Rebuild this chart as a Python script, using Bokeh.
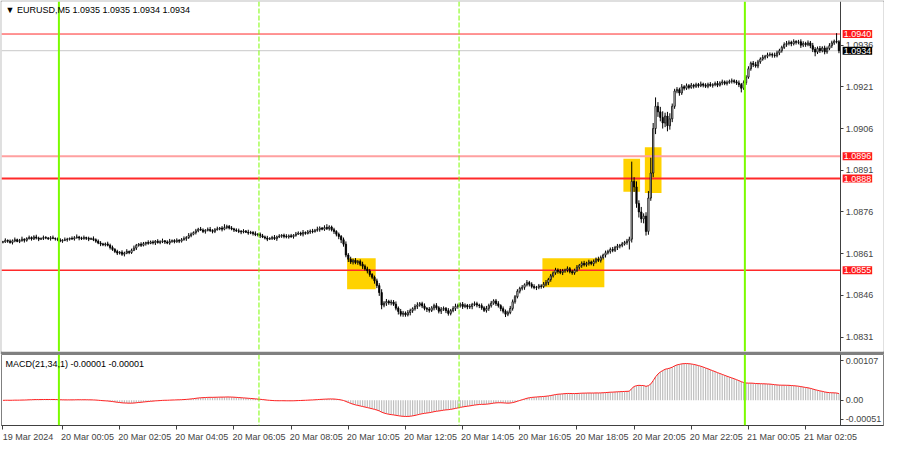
import numpy as np
import pandas as pd
from bokeh.plotting import figure
from bokeh.models import Range1d, FixedTicker, Span, Label, PrintfTickFormatter
from bokeh.layouts import column
from bokeh.embed import file_html
from bokeh.resources import INLINE

# ---------------- data (EURUSD M5) ----------------
title_text = "\u25bc EURUSD,M5 1.0935 1.0935 1.0934 1.0934"
macd_text = "MACD(21,34,1) -0.00001 -0.00001"
first_bar = "2024-03-19 22:00"

close = [
    1.08652, 1.08658, 1.08655, 1.08650, 1.08656, 1.08660, 1.08654, 1.08657, 1.08662, 1.08658, 1.08664, 1.08668,
    1.08663, 1.08670, 1.08666, 1.08662, 1.08665, 1.08668, 1.08666, 1.08664, 1.08667, 1.08665, 1.08663, 1.08660,
    1.08655, 1.08658, 1.08660, 1.08662, 1.08665, 1.08663, 1.08667, 1.08670, 1.08666, 1.08664, 1.08668, 1.08665,
    1.08662, 1.08664, 1.08660, 1.08655, 1.08648, 1.08645, 1.08642, 1.08645, 1.08640, 1.08632, 1.08625, 1.08618,
    1.08612, 1.08615, 1.08608, 1.08612, 1.08618, 1.08614, 1.08622, 1.08630, 1.08640, 1.08644, 1.08640, 1.08646,
    1.08650, 1.08647, 1.08652, 1.08649, 1.08655, 1.08650, 1.08653, 1.08656, 1.08652, 1.08648, 1.08654, 1.08657,
    1.08653, 1.08658, 1.08655, 1.08660, 1.08664, 1.08668, 1.08675, 1.08680, 1.08686, 1.08692, 1.08698, 1.08695,
    1.08690, 1.08694, 1.08697, 1.08693, 1.08690, 1.08696, 1.08699, 1.08702, 1.08698, 1.08704, 1.08708, 1.08702,
    1.08699, 1.08695, 1.08692, 1.08690, 1.08688, 1.08691, 1.08687, 1.08684, 1.08686, 1.08682, 1.08678, 1.08680,
    1.08674, 1.08670, 1.08666, 1.08662, 1.08665, 1.08668, 1.08664, 1.08670, 1.08673, 1.08676, 1.08672, 1.08670,
    1.08674, 1.08671, 1.08676, 1.08680, 1.08684, 1.08680, 1.08686, 1.08683, 1.08688, 1.08691, 1.08689, 1.08694,
    1.08697, 1.08702, 1.08698, 1.08704, 1.08700, 1.08706, 1.08696, 1.08690, 1.08680, 1.08672, 1.08660, 1.08644,
    1.08605, 1.08590, 1.08580, 1.08586, 1.08578, 1.08582, 1.08572, 1.08565, 1.08555, 1.08548, 1.08535, 1.08525,
    1.08512, 1.08495, 1.08470, 1.08425, 1.08432, 1.08438, 1.08433, 1.08436, 1.08428, 1.08414, 1.08402, 1.08392,
    1.08396, 1.08390, 1.08398, 1.08405, 1.08412, 1.08420, 1.08425, 1.08430, 1.08422, 1.08413, 1.08410, 1.08406,
    1.08415, 1.08423, 1.08415, 1.08403, 1.08410, 1.08413, 1.08405, 1.08395, 1.08405, 1.08413, 1.08420, 1.08423,
    1.08428, 1.08420, 1.08424, 1.08418, 1.08420, 1.08427, 1.08430, 1.08425, 1.08423, 1.08415, 1.08406, 1.08413,
    1.08423, 1.08432, 1.08440, 1.08430, 1.08423, 1.08412, 1.08403, 1.08392, 1.08398, 1.08413, 1.08437, 1.08455,
    1.08475, 1.08485, 1.08489, 1.08498, 1.08506, 1.08500, 1.08492, 1.08488, 1.08489, 1.08494, 1.08492, 1.08500,
    1.08506, 1.08517, 1.08530, 1.08541, 1.08551, 1.08546, 1.08542, 1.08548, 1.08551, 1.08556, 1.08545, 1.08541,
    1.08550, 1.08561, 1.08568, 1.08575, 1.08570, 1.08575, 1.08580, 1.08574, 1.08582, 1.08590, 1.08586, 1.08596,
    1.08605, 1.08613, 1.08618, 1.08625, 1.08622, 1.08632, 1.08637, 1.08640, 1.08645, 1.08650, 1.08655, 1.08662,
    1.08870, 1.08850, 1.08790, 1.08760, 1.08735, 1.08745, 1.08690, 1.08810, 1.08900, 1.09060, 1.09140, 1.09120,
    1.09100, 1.09080, 1.09105, 1.09070, 1.09095, 1.09140, 1.09195, 1.09200, 1.09188, 1.09210, 1.09205, 1.09214,
    1.09208, 1.09216, 1.09212, 1.09218, 1.09214, 1.09220, 1.09216, 1.09212, 1.09219, 1.09215, 1.09218, 1.09222,
    1.09216, 1.09224, 1.09228, 1.09222, 1.09226, 1.09230, 1.09232, 1.09228, 1.09224, 1.09218, 1.09205, 1.09225,
    1.09245, 1.09275, 1.09295, 1.09290, 1.09285, 1.09300, 1.09310, 1.09316, 1.09320, 1.09325, 1.09327, 1.09324,
    1.09322, 1.09332, 1.09340, 1.09352, 1.09362, 1.09366, 1.09370, 1.09365, 1.09373, 1.09370, 1.09372, 1.09360,
    1.09366, 1.09362, 1.09368, 1.09358, 1.09345, 1.09335, 1.09348, 1.09340, 1.09350, 1.09336, 1.09348, 1.09358,
    1.09368, 1.09374, 1.09372, 1.09340,
]

# upper / lower wick length of each candle, in points (0.00001)
wick_up = [
    4, 7, 3, 6, 5, 8, 4, 6, 9, 3, 5, 7, 4, 6, 8, 5, 3, 7, 5, 4, 6, 8, 3, 5,
    6, 4, 8, 5, 3, 7, 6, 9, 4, 5, 7, 3, 6, 4, 8, 5, 6, 7, 4, 5, 8, 6, 7, 5,
    6, 4, 7, 5, 8, 3, 6, 9, 5, 4, 7, 6, 3, 8, 5, 6, 4, 7, 5, 8, 3, 6, 9, 4,
    5, 7, 4, 6, 8, 5, 9, 6, 4, 7, 5, 8, 6, 4, 7, 9, 5, 6, 8, 4, 7, 12, 6, 5,
    7, 4, 6, 8, 5, 7, 4, 9, 6, 5, 8, 4, 6, 7, 5, 8, 4, 6, 9, 5, 7, 4, 6, 8,
    5, 7, 4, 8, 6, 5, 9, 4, 7, 6, 8, 5, 10, 6, 4, 8, 12, 6, 5, 7, 4, 6, 5, 8,
    10, 7, 9, 6, 8, 5, 7, 9, 6, 8, 7, 5, 6, 8, 9, 12, 7, 9, 6, 8, 7, 10, 6, 9,
    8, 6, 9, 7, 5, 8, 10, 6, 7, 9, 5, 8, 6, 7, 9, 6, 8, 7, 5, 9, 6, 8, 10, 7,
    6, 8, 7, 5, 9, 6, 8, 7, 5, 8, 6, 9, 7, 8, 6, 7, 9, 5, 8, 6, 7, 9, 8, 6,
    7, 6, 8, 5, 9, 6, 7, 8, 5, 7, 6, 8, 9, 6, 7, 5, 8, 6, 9, 7, 5, 8, 6, 7,
    6, 8, 5, 7, 9, 6, 8, 5, 7, 6, 9, 7, 5, 8, 6, 7, 9, 6, 8, 5, 7, 6, 8, 9,
    71, 15, 20, 12, 18, 10, 14, 25, 55, 20, 32, 15, 18, 22, 12, 15, 20, 10, 8, 9, 7, 10, 6, 8,
    6, 8, 5, 7, 6, 9, 5, 7, 6, 8, 5, 7, 9, 6, 8, 5, 7, 6, 8, 5, 7, 9, 6, 8,
    7, 9, 6, 8, 10, 7, 6, 9, 5, 8, 7, 6, 9, 8, 7, 6, 8, 9, 7, 6, 8, 5, 7, 9,
    8, 6, 9, 7, 10, 8, 7, 9, 6, 8, 7, 9, 8, 6, 29, 6,
]
wick_dn = [
    5, 3, 6, 4, 7, 5, 3, 6, 4, 8, 5, 3, 6, 4, 5, 7, 3, 6, 4, 5, 7, 3, 6, 5,
    4, 6, 3, 7, 5, 4, 6, 3, 8, 5, 4, 6, 7, 3, 5, 6, 4, 8, 5, 6, 4, 7, 5, 6,
    7, 5, 6, 8, 4, 6, 5, 3, 7, 5, 6, 4, 7, 5, 3, 6, 8, 4, 6, 5, 7, 4, 6, 5,
    6, 4, 7, 5, 3, 8, 5, 6, 4, 7, 5, 3, 6, 8, 4, 5, 7, 6, 3, 5, 8, 4, 6, 5,
    5, 7, 4, 6, 8, 5, 3, 6, 4, 7, 5, 6, 8, 4, 5, 7, 3, 6, 5, 8, 4, 6, 7, 5,
    6, 4, 7, 5, 3, 6, 8, 5, 4, 7, 6, 3, 5, 8, 4, 6, 5, 7, 6, 9, 8, 10, 12, 9,
    8, 10, 7, 9, 6, 8, 7, 10, 6, 9, 8, 7, 10, 9, 12, 15, 8, 10, 7, 9, 6, 8, 11, 8,
    9, 7, 6, 10, 8, 7, 9, 6, 8, 7, 10, 8, 6, 9, 7, 8, 10, 6, 9, 8, 7, 6, 9, 8,
    7, 9, 6, 8, 7, 10, 6, 8, 9, 7, 6, 8, 9, 7, 6, 8, 7, 9, 8, 10, 7, 6, 8, 7,
    6, 8, 7, 9, 6, 8, 7, 6, 9, 7, 8, 6, 7, 9, 8, 6, 7, 8, 6, 9, 7, 8, 6, 7,
    7, 6, 8, 9, 6, 7, 8, 6, 9, 7, 6, 8, 7, 9, 6, 8, 7, 6, 9, 8, 7, 6, 8, 30,
    12, 18, 15, 20, 14, 16, 15, 12, 10, 15, 20, 18, 14, 20, 15, 20, 14, 12, 9, 8, 10, 7, 8, 6,
    7, 5, 8, 6, 7, 5, 8, 6, 7, 5, 8, 6, 7, 5, 8, 6, 7, 5, 8, 6, 7, 9, 15, 6,
    8, 6, 7, 9, 6, 8, 7, 6, 8, 7, 6, 9, 7, 6, 8, 7, 6, 8, 7, 9, 6, 8, 7, 10,
    7, 8, 6, 9, 10, 15, 7, 8, 6, 9, 7, 6, 8, 7, 6, 9,
]

price_ticks = [1.0936, 1.0921, 1.0906, 1.0891, 1.0876, 1.0861, 1.0846, 1.0831]
levels = [1.0940, 1.0896, 1.0888, 1.0855]
level_colors = ["#FF2A2A", "#FFA0A0", "#FF2A2A", "#FF2A2A"]
level_widths = [1, 2, 2, 1.5]
bid_price = 1.0934

macd_ticks = [0.00107, 0.0, -0.00051]
macd_tick_labels = ["0.00107", "0.00", "-0.00051"]

time_tick_times = ["2024-03-19 22:00", "2024-03-20 00:05", "2024-03-20 02:05", "2024-03-20 04:05",
                   "2024-03-20 06:05", "2024-03-20 08:05", "2024-03-20 10:05", "2024-03-20 12:05",
                   "2024-03-20 14:05", "2024-03-20 16:05", "2024-03-20 18:05", "2024-03-20 20:05",
                   "2024-03-20 22:05", "2024-03-21 00:05", "2024-03-21 02:05"]
time_tick_labels = ["19 Mar 2024", "20 Mar 00:05", "20 Mar 02:05", "20 Mar 04:05", "20 Mar 06:05",
                    "20 Mar 08:05", "20 Mar 10:05", "20 Mar 12:05", "20 Mar 14:05", "20 Mar 16:05",
                    "20 Mar 18:05", "20 Mar 20:05", "20 Mar 22:05", "21 Mar 00:05", "21 Mar 02:05"]

session_times = ["2024-03-20 00:00", "2024-03-20 07:00", "2024-03-20 14:00", "2024-03-21 00:00"]
session_dash = ["solid", "dashed", "dashed", "solid"]

box_start = ["2024-03-20 10:05", "2024-03-20 16:55", "2024-03-20 19:45", "2024-03-20 20:30"]
box_end = ["2024-03-20 11:00", "2024-03-20 19:00", "2024-03-20 20:15", "2024-03-20 21:00"]
box_low = [1.08482, 1.08489, 1.08833, 1.08828]
box_high = [1.08593, 1.08593, 1.08951, 1.08993]

# ---------------- derived ----------------
n = len(close)
times = pd.date_range(first_bar, periods=n, freq="5min")
pos = {t: i for i, t in enumerate(times)}
idx = np.arange(n)
c = np.array(close)
o = np.concatenate([[c[0]], c[:-1]])
hi = np.maximum(o, c) + np.array(wick_up[:n]) * 1e-5
lo = np.minimum(o, c) - np.array(wick_dn[:n]) * 1e-5
up = c >= o

# MACD(21,34,1): EMA21 - EMA34 of closes, signal = SMA(1)
def ema(x, period):
    a = 2.0 / (period + 1)
    out = [x[0]]
    for v in x[1:]:
        out.append(out[-1] + a * (v - out[-1]))
    return np.array(out)

macd = ema(c, 21) - ema(c, 34)

FONT = "Liberation Sans"
FS = "9px"
W = 884
AXIS_X = n - 0.3          # price scale sits right after the last bar
SCALE_BARS = 18           # room for the price scale, in bar widths
XR = Range1d(-0.6, AXIS_X + SCALE_BARS)

TAG_EXTRA = {}
if "padding" in Label.properties():
    TAG_EXTRA["padding"] = 1


def style_price_axis(ax):
    ax.fixed_location = AXIS_X
    ax.major_tick_out = 3
    ax.major_tick_in = 0
    ax.minor_tick_out = 0
    ax.minor_tick_in = 0
    ax.major_label_standoff = 2
    ax.major_label_text_font = FONT
    ax.major_label_text_font_size = FS
    ax.axis_line_color = "#404040"
    ax.major_tick_line_color = "#404040"


def session_spans(fig):
    for t, d in zip(session_times, session_dash):
        i = pos[pd.Timestamp(t)] - 0.5
        fig.add_layout(Span(location=i, dimension="height", line_color="#7CFC00",
                            line_width=2 if d == "solid" else 1,
                            line_dash="solid" if d == "solid" else "5 2"))


# ---------------- main price panel ----------------
p = figure(width=W, height=354, output_backend="svg", toolbar_location=None,
           x_range=XR, y_range=Range1d(1.08258, 1.09517),
           x_axis_location=None, y_axis_location="right",
           min_border_left=1, min_border_right=1, min_border_top=1, min_border_bottom=3)
p.grid.visible = False
p.outline_line_color = None
p.border_fill_color = "#808080"
p.background_fill_color = "white"
ya = p.yaxis[0]
ya.ticker = FixedTicker(ticks=price_ticks)
ya.formatter = PrintfTickFormatter(format="%.4f")
style_price_axis(ya)

# signal boxes
bl = [pos[pd.Timestamp(t)] - 0.5 for t in box_start]
br = [pos[pd.Timestamp(t)] + 0.5 for t in box_end]
p.quad(left=bl, right=br, bottom=box_low, top=box_high, fill_color="#FFD200", line_color=None)

session_spans(p)

# level lines (stop at the price scale)
p.segment(x0=XR.start, x1=AXIS_X, y0=bid_price, y1=bid_price, line_color="#C8C8C8", line_width=1)
p.segment(x0=[XR.start] * len(levels), x1=[AXIS_X] * len(levels), y0=levels, y1=levels,
          line_color=level_colors, line_width=level_widths)

# candles
p.segment(x0=idx, y0=lo, x1=idx, y1=hi, line_color="black", line_width=1)
p.vbar(x=idx[up], bottom=o[up], top=c[up], width=0.55, fill_color="white", line_color="black", line_width=0.8)
p.vbar(x=idx[~up], bottom=c[~up], top=o[~up], width=0.55, fill_color="black", line_color="black", line_width=0.8)

# price tags on the scale
for lv in levels:
    p.add_layout(Label(x=AXIS_X, y=lv, text=f"{lv:.4f}", x_offset=2, text_align="left",
                       text_baseline="middle", text_color="white", text_font=FONT,
                       text_font_size=FS, background_fill_color="#FF1A1A", **TAG_EXTRA))
p.add_layout(Label(x=AXIS_X, y=bid_price, text=f"{bid_price:.4f}", x_offset=2, text_align="left",
                   text_baseline="middle", text_color="white", text_font=FONT,
                   text_font_size=FS, background_fill_color="black", **TAG_EXTRA))

p.add_layout(Label(x=XR.start, y=1.09517, text=title_text, x_offset=4, y_offset=-3,
                   text_baseline="top", text_font=FONT, text_font_size=FS, text_color="black"))

# ---------------- MACD panel ----------------
m = figure(width=W, height=90, output_backend="svg", toolbar_location=None,
           x_range=XR, y_range=Range1d(-0.00068, 0.00124),
           y_axis_location="right",
           min_border_left=1, min_border_right=1, min_border_top=0, min_border_bottom=1)
m.grid.visible = False
m.outline_line_color = "#808080"
mya = m.yaxis[0]
mya.ticker = FixedTicker(ticks=macd_ticks)
mya.major_label_overrides = {t: s for t, s in zip(macd_ticks, macd_tick_labels)}
style_price_axis(mya)

tick_idx = [pos[pd.Timestamp(t)] for t in time_tick_times]
label_shift = 10.5
mxa = m.xaxis[0]
mxa.ticker = FixedTicker(ticks=[i + label_shift for i in tick_idx], minor_ticks=tick_idx)
mxa.major_label_overrides = {i + label_shift: s for i, s in zip(tick_idx, time_tick_labels)}
mxa.major_tick_out = 0
mxa.major_tick_in = 0
mxa.minor_tick_out = 4
mxa.minor_tick_in = 0
mxa.minor_tick_line_color = "#404040"
mxa.major_label_standoff = 2
mxa.major_label_text_font = FONT
mxa.major_label_text_font_size = FS
mxa.axis_line_color = "#404040"

session_spans(m)

m.vbar(x=idx, bottom=0, top=macd, width=0.5, fill_color="#BEBEBE", line_color=None)
m.line(idx, macd, line_color="#FF2020", line_width=1)
m.add_layout(Label(x=XR.start, y=0.00124, text=macd_text, x_offset=4, y_offset=-4,
                   text_baseline="top", text_font=FONT, text_font_size=FS, text_color="black"))

layout = column(p, m, spacing=0)
open("out.html", "w").write(file_html(layout, INLINE))
